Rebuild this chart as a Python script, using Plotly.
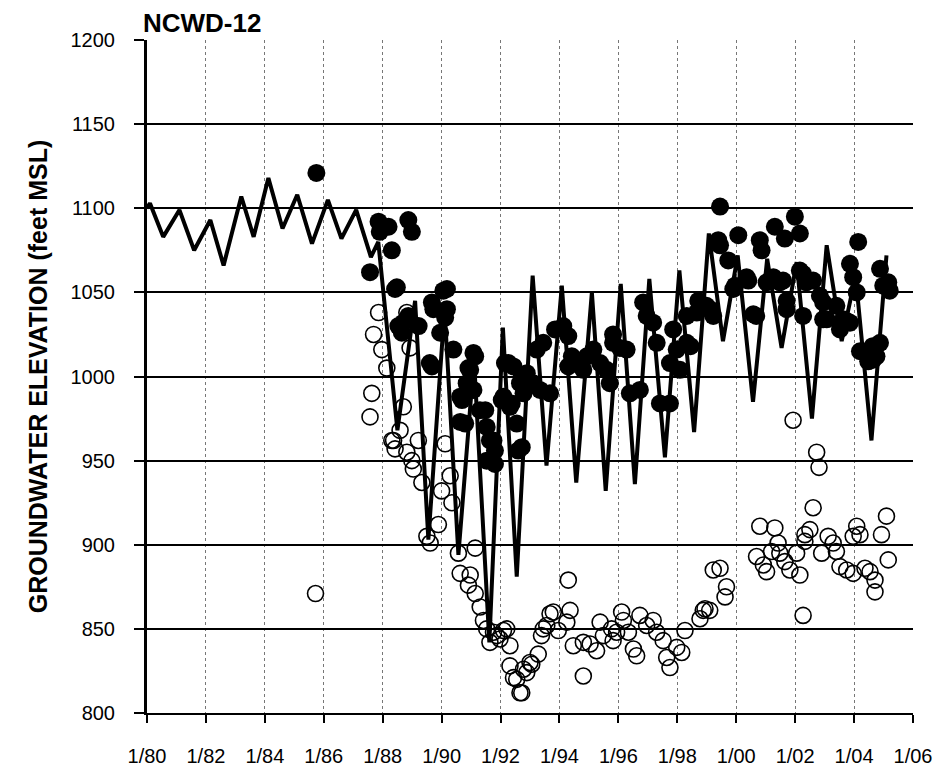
import plotly.graph_objects as go

# ---------------- data (decimal year, elevation ft MSL) ----------------
line_year = [1980.0, 1980.1, 1980.55, 1981.1, 1981.6, 1982.15, 1982.6, 1983.2, 1983.62,
             1984.12, 1984.6, 1985.1, 1985.6, 1986.14, 1986.6, 1987.1, 1987.6, 1987.85,
             1988.5, 1989.1, 1989.55, 1990.1, 1990.57, 1991.1, 1991.62, 1992.08, 1992.55,
             1993.09, 1993.56, 1994.08, 1994.57, 1995.1, 1995.57, 1996.08, 1996.56, 1997.05,
             1997.58, 1998.07, 1998.57, 1999.07, 1999.55, 2000.05, 2000.57, 2001.05, 2001.54,
             2002.05, 2002.57, 2003.07, 2003.58, 2004.05, 2004.59, 2005.1]
line_elev = [1100, 1103, 1083, 1099, 1075, 1093, 1066, 1107, 1083,
             1118, 1088, 1108, 1079, 1105, 1082, 1099, 1071, 1080,
             968, 1045, 903, 1040, 894, 1010, 842, 1029, 881,
             1060, 947, 1054, 937, 1050, 932, 1055, 936, 1058,
             952, 1063, 967, 1085, 1021, 1072, 985, 1070, 1017,
             1068, 975, 1078, 1021, 1060, 962, 1072]

static_year = [1985.75,
               1987.57, 1987.86, 1987.9, 1988.2, 1988.31, 1988.42, 1988.87, 1988.99,
               1988.48, 1988.53, 1988.65, 1988.7, 1988.87, 1989.22,
               1989.67, 1989.72, 1989.6, 1989.67, 1989.95, 1990.06, 1990.18, 1990.18, 1990.12, 1990.4,
               1990.63, 1990.69, 1990.63, 1990.8, 1990.85, 1990.91, 1990.97, 1991.08, 1991.14, 1991.08,
               1991.3, 1991.48, 1991.53, 1991.53, 1991.64, 1991.76, 1991.81, 1991.81,
               1992.04, 1992.1, 1992.15, 1992.27, 1992.32, 1992.38, 1992.44, 1992.55, 1992.6, 1992.66,
               1992.72, 1992.72, 1992.78, 1992.78, 1992.89,
               1993.11, 1993.23, 1993.34, 1993.45, 1993.68, 1993.85, 1994.13, 1994.3, 1994.3, 1994.42,
               1994.59, 1994.81, 1994.93, 1995.15, 1995.38, 1995.6, 1995.71, 1995.82, 1995.82, 1996.05,
               1996.28, 1996.39, 1996.73, 1996.84, 1996.96, 1997.18, 1997.3, 1997.41, 1997.75, 1997.75,
               1997.86, 1997.98, 1998.09, 1998.32, 1998.32, 1998.45, 1998.66, 1998.71, 1998.99, 1999.11,
               1999.22,
               1999.39, 1999.45, 1999.45, 1999.73, 1999.9, 1999.96, 2000.07, 2000.35, 2000.41, 2000.58,
               2000.68, 2000.8, 2000.86, 2001.03, 2001.26, 2001.31, 2001.48, 2001.59, 2001.65, 2001.71,
               2001.71, 2001.99, 2002.16, 2002.16, 2002.27, 2002.27, 2002.38, 2002.61, 2002.84, 2002.95,
               2002.95, 2003.07, 2003.4, 2003.52, 2003.63, 2003.75, 2003.86, 2003.86, 2003.97, 2004.09,
               2004.14, 2004.2, 2004.48, 2004.63, 2004.65, 2004.76, 2004.88, 2004.88, 2004.99, 2005.16,
               2005.21]
static_elev = [1121,
               1062, 1092, 1086, 1089, 1075, 1052, 1093, 1086,
               1053, 1030, 1026, 1032, 1036, 1030,
               1044, 1040, 1008, 1006, 1026, 1051, 1052, 1040, 1035, 1016,
               988, 986, 973, 972, 996, 1005, 1004, 1014, 1012, 992,
               980, 980, 970, 950, 962, 962, 956, 948,
               986, 988, 1008, 1008, 982, 984, 1006, 972, 956, 996,
               1000, 958, 990, 998, 1002,
               996, 1016, 992, 1020, 990, 1028, 1030, 1024, 1006, 1012,
               1008, 1004, 1012, 1016, 1008, 1004, 996, 1020, 1025, 1017,
               1016, 990, 992, 1044, 1036, 1032, 1020, 984, 984, 1008,
               1028, 1016, 1004, 1036, 1020, 1018, 1038, 1045, 1042, 1040,
               1036,
               1081, 1101, 1078, 1069, 1052, 1054, 1084, 1059, 1057, 1037,
               1036, 1081, 1075, 1056, 1059, 1089, 1056, 1057, 1082, 1045,
               1040, 1095, 1085, 1063, 1061, 1036, 1056, 1057, 1048, 1044,
               1034, 1034, 1042, 1028, 1034, 1033, 1067, 1032, 1059, 1050,
               1080, 1015, 1009, 1018, 1010, 1012, 1020, 1064, 1054, 1056,
               1051]

pumping_year = [1985.72,
                1987.57, 1987.63, 1987.69, 1987.86, 1987.97, 1988.14, 1988.82, 1988.93, 1988.7, 1988.59,
                1988.31, 1988.37, 1988.42, 1988.82, 1988.99, 1989.04, 1989.21, 1989.33, 1989.5, 1989.61,
                1989.89, 1990.0, 1990.12, 1990.29, 1990.35, 1990.57, 1990.63, 1990.91, 1990.97, 1991.14,
                1991.14, 1991.31, 1991.42, 1991.53, 1991.64, 1991.76, 1991.87, 1991.98, 1992.1, 1992.21,
                1992.32, 1992.32, 1992.44, 1992.55, 1992.66, 1992.72, 1992.78, 1992.89, 1993.0, 1993.06,
                1993.28, 1993.39, 1993.45, 1993.57, 1993.68, 1993.79, 1993.96, 1994.25, 1994.3, 1994.36,
                1994.47, 1994.81, 1994.81, 1995.04, 1995.26, 1995.38, 1995.49, 1995.77, 1995.82, 1995.94,
                1996.11, 1996.17, 1996.34, 1996.51, 1996.62, 1996.73, 1996.96, 1997.18, 1997.3, 1997.52,
                1997.64, 1997.75, 1997.98, 1998.15, 1998.26, 1998.77, 1998.88, 1998.94, 1999.1, 1999.22,
                1999.45, 1999.62, 1999.67,
                2000.69, 2000.8, 2000.92, 2001.03, 2001.2, 2001.31, 2001.42, 2001.48, 2001.65, 2001.82,
                2001.93, 2002.05, 2002.16, 2002.27, 2002.33, 2002.33, 2002.5, 2002.61, 2002.73, 2002.81,
                2002.9, 2003.12, 2003.29, 2003.4, 2003.52, 2003.75, 2003.97, 2003.97, 2004.09, 2004.2,
                2004.37, 2004.54, 2004.71, 2004.71, 2004.93, 2005.1, 2005.16]
pumping_elev = [871,
                976, 990, 1025, 1038, 1016, 1005, 1038, 1017, 982, 968,
                962, 962, 957, 955, 950, 945, 962, 937, 905, 901,
                912, 932, 960, 941, 925, 895, 883, 876, 882, 898,
                871, 863, 855, 850, 842, 848, 846, 844, 849, 850,
                840, 828, 821, 820, 812, 812, 826, 824, 830, 829,
                835, 846, 850, 852, 859, 860, 849, 854, 879, 861,
                840, 822, 842, 841, 837, 854, 846, 850, 843, 848,
                860, 855, 848, 838, 834, 858, 852, 855, 848, 843,
                833, 827, 839, 836, 849, 856, 861, 862, 861, 885,
                886, 869, 875,
                893, 911, 888, 884, 896, 910, 901, 895, 890, 885,
                974, 895, 882, 858, 906, 902, 909, 922, 955, 946,
                895, 905, 901, 896, 887, 885, 883, 905, 911, 906,
                886, 884, 879, 872, 906, 917, 891]

tick_years = list(range(1980, 2007, 2))
tick_labels = ["1/80", "1/82", "1/84", "1/86", "1/88", "1/90", "1/92",
               "1/94", "1/96", "1/98", "1/00", "1/02", "1/04", "1/06"]
y_ticks = [800, 850, 900, 950, 1000, 1050, 1100, 1150, 1200]

# ---------------- figure ----------------
FONT = "Liberation Sans, Arial, sans-serif"
fig = go.Figure()

fig.add_trace(go.Scatter(
    x=pumping_year, y=pumping_elev, mode="markers", name="Pumping",
    marker=dict(symbol="circle-open", size=16, color="black", line=dict(width=1.6, color="black")),
    showlegend=False))

fig.add_trace(go.Scatter(
    x=line_year, y=line_elev, mode="lines", name="Simulated",
    line=dict(color="black", width=4), showlegend=False))

fig.add_trace(go.Scatter(
    x=static_year, y=static_elev, mode="markers", name="Static",
    marker=dict(symbol="circle", size=18, color="black"),
    showlegend=False))

fig.update_layout(
    width=937, height=768,
    margin=dict(l=147, r=24, t=40, b=55),
    paper_bgcolor="white", plot_bgcolor="white",
    font=dict(family=FONT, color="black", size=18),
    annotations=[dict(
        text="<b>NCWD-12</b>", xref="paper", yref="paper",
        x=-0.008, y=1, xanchor="left", yanchor="middle", yshift=17,
        showarrow=False, font=dict(family=FONT, size=26, color="black"))],
)

fig.update_xaxes(
    range=[1980, 2006], tickmode="array", tickvals=tick_years, ticktext=tick_labels,
    showgrid=True, gridcolor="#777777", gridwidth=1, griddash="dot",
    showline=True, linecolor="black", linewidth=2,
    ticks="outside", ticklen=8, tickwidth=2, tickcolor="black",
    tickfont=dict(family=FONT, size=20, color="black"), ticklabelstandoff=16,
    automargin=False, zeroline=False)

fig.update_yaxes(
    range=[800, 1200], tickmode="array", tickvals=y_ticks,
    showgrid=True, gridcolor="black", gridwidth=1.5,
    showline=True, linecolor="black", linewidth=3,
    ticks="outside", ticklen=10, tickwidth=1.5, tickcolor="black",
    tickfont=dict(family=FONT, size=20, color="black"), ticklabelstandoff=15,
    title=dict(text="<b>GROUNDWATER ELEVATION (feet MSL)</b>",
               font=dict(family=FONT, size=25, color="black"), standoff=16),
    automargin=False, zeroline=False)

fig.write_html(
    "out.html",
    config={"displayModeBar": False},
    post_script="document.body.style.margin='0px';document.body.style.overflow='hidden';")
